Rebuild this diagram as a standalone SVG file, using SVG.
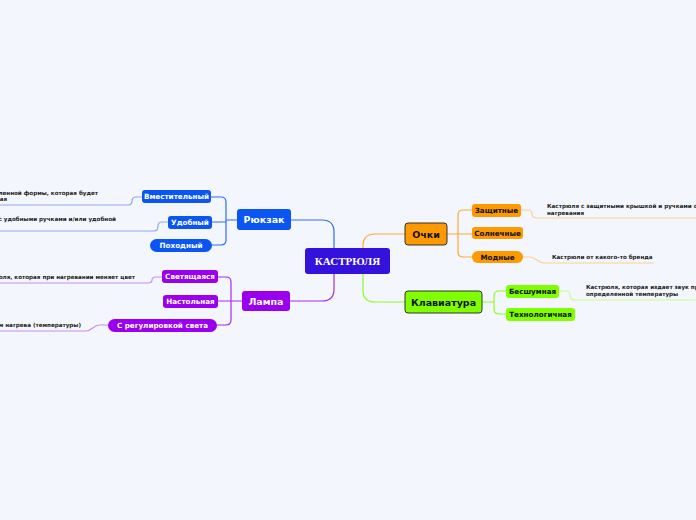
<svg xmlns="http://www.w3.org/2000/svg" width="696" height="520" viewBox="0 0 696 520">
<style>
.lbl{font-family:"DejaVu Sans","Liberation Sans",sans-serif;font-weight:bold;text-anchor:middle}
.main{font-size:9.5px}
.sub{font-size:7.2px}
.w{fill:#ffffff}
.k{fill:#111111}
.note{font-family:"DejaVu Sans","Liberation Sans",sans-serif;font-weight:bold;font-size:5.6px;fill:#222222}
.c{fill:none;stroke-width:1.2;stroke-linecap:round}
.blue{fill:#0b55f2}
.purp{fill:#9a00ee}
.orng{fill:#ff9900}
.grn{fill:#80ff00}
</style>
<rect width="696" height="520" fill="#f3f6fc"/>
<g id="connectors">
  <path class="c" stroke="#2f6df0" d="M291,220 L322,220 Q334,220 334,232 L334,248"/>
  <path class="c" stroke="#a32cf0" d="M290,301 L322,301 Q334,301 334,289 L334,274"/>
  <path class="c" stroke="#ffaa33" d="M363,248 L363,246 Q363,234 375,234 L405,234"/>
  <path class="c" stroke="#88ff22" d="M363,274 L363,290 Q363,302 375,302 L405,302"/>
  <path class="c" stroke="#2f6df0" d="M211,197 L221,197 Q226,197 226,202 L226,240 Q226,245 221,245 L212,245 M212,222 L226,222 M226,220 L237,220"/>
  <path class="c" stroke="#a32cf0" d="M218,277 L226,277 Q231,277 231,282 L231,320 Q231,325 226,325 L217,325 M218,301 L242,301"/>
  <path class="c" stroke="#ffaa33" d="M472,210 L463,210 Q458,210 458,215 L458,252 Q458,257 463,257 L472,257 M447,234 L472,234"/>
  <path class="c" stroke="#88ff22" d="M506,291 L499,291 Q494,291 494,296 L494,309 Q494,314 499,314 L506,314 M482,302 L494,302"/>
  <path class="c" stroke="#8fa8ee" d="M142,197 L136,197 Q132,197 132,201 Q132,205 128,205 L0,205"/>
  <path class="c" stroke="#8fa8ee" d="M168,222 L162,222 Q158,222 158,226 Q158,231 154,231 L0,231"/>
  <path class="c" stroke="#c88cf2" d="M162,277 L156,277 Q152,277 152,280 Q152,283 148,283 L0,283"/>
  <path class="c" stroke="#c88cf2" d="M108,325 L99,325 C93,325 93,331 85,331 L0,331"/>
  <path class="c" stroke="#ffcf8f" d="M521,210 L528,210 Q532,210 532,214 Q532,218 537,218 L696,218"/>
  <path class="c" stroke="#ffcf8f" d="M523,257 L530,257 C536,257 537,263 545,263 L653,263"/>
  <path class="c" stroke="#c2ff8a" d="M559,291 L566,291 Q570,291 570,295 Q570,300 575,300 L696,300"/>
</g>
<g id="center">
  <rect x="305" y="248" width="85" height="26" rx="3" fill="#3511dc"/>
  <text x="347.5" y="265" font-family="'Liberation Serif',serif" font-weight="bold" font-size="11" fill="#ffffff" text-anchor="middle">КАСТРЮЛЯ</text>
</g>
<g id="ryukzak">
  <rect class="blue" x="237" y="209" width="54" height="21" rx="3"/>
  <text class="lbl main w" x="264" y="223">Рюкзак</text>
</g>
<g id="vmestitelny">
  <rect class="blue" x="142" y="190" width="69" height="13" rx="3"/>
  <text class="lbl sub w" x="176.5" y="199.2">Вместительный</text>
</g>
<g id="udobny">
  <rect class="blue" x="168" y="216" width="44" height="13" rx="3"/>
  <text class="lbl sub w" x="190" y="225.2">Удобный</text>
</g>
<g id="pohodny">
  <rect class="blue" x="150" y="239" width="62" height="13" rx="6.5"/>
  <text class="lbl sub w" x="181" y="248.2">Походный</text>
</g>
<g id="lampa">
  <rect class="purp" x="242" y="291" width="48" height="20" rx="3"/>
  <text class="lbl main w" x="266" y="304.5">Лампа</text>
</g>
<g id="svetyaschaya">
  <rect class="purp" x="162" y="270" width="56" height="13" rx="3"/>
  <text class="lbl sub w" x="190" y="279.2">Светящаяся</text>
</g>
<g id="nastolnaya">
  <rect class="purp" x="163" y="295" width="55" height="13" rx="3"/>
  <text class="lbl sub w" x="190.5" y="304.2">Настольная</text>
</g>
<g id="sreg">
  <rect class="purp" x="108" y="319" width="109" height="13" rx="6.5"/>
  <text class="lbl sub w" x="162.5" y="328.2">С регулировкой света</text>
</g>
<g id="ochki">
  <rect class="orng" x="405" y="223" width="42" height="22" rx="3" stroke="#333333" stroke-width="1"/>
  <text class="lbl main k" x="426" y="237.5">Очки</text>
</g>
<g id="zaschitnye">
  <rect class="orng" x="472" y="204" width="49" height="13" rx="3"/>
  <text class="lbl sub k" x="496.5" y="213.2">Защитные</text>
</g>
<g id="solnechnye">
  <rect class="orng" x="472" y="227" width="51" height="12" rx="3"/>
  <text class="lbl sub k" x="497.5" y="235.7">Солнечные</text>
</g>
<g id="modnye">
  <rect class="orng" x="472" y="251" width="51" height="12" rx="6"/>
  <text class="lbl sub k" x="497.5" y="259.7">Модные</text>
</g>
<g id="klaviatura">
  <rect class="grn" x="405" y="291" width="77" height="22" rx="3" stroke="#333333" stroke-width="1"/>
  <text class="lbl main k" x="443.5" y="305.5">Клавиатура</text>
</g>
<g id="besshumnaya">
  <rect class="grn" x="506" y="285" width="53" height="13" rx="3"/>
  <text class="lbl sub k" x="532.5" y="294.2">Бесшумная</text>
</g>
<g id="tehnologichnaya">
  <rect class="grn" x="506" y="308" width="69" height="13" rx="3"/>
  <text class="lbl sub k" x="540.5" y="317.2">Технологичная</text>
</g>
<g id="notes">
  <text class="note" x="98" y="195" text-anchor="end">ленной формы, которая будет</text>
  <text class="note" x="7" y="201" text-anchor="end">ая</text>
  <text class="note" x="116" y="221" text-anchor="end">с удобными ручками и/или удобной</text>
  <text class="note" x="135" y="279" text-anchor="end">юля, которая при нагревании меняет цвет</text>
  <text class="note" x="81" y="327" text-anchor="end">м нагрева (температуры)</text>
  <text class="note" x="547" y="208">Кастрюля с защитными крышкой и ручками от</text>
  <text class="note" x="547" y="215">нагревания</text>
  <text class="note" x="552" y="259">Кастрюли от какого-то бренда</text>
  <text class="note" x="586" y="289">Кастрюля, которая издает звук при</text>
  <text class="note" x="586" y="296">определенной температуры</text>
</g>
</svg>
